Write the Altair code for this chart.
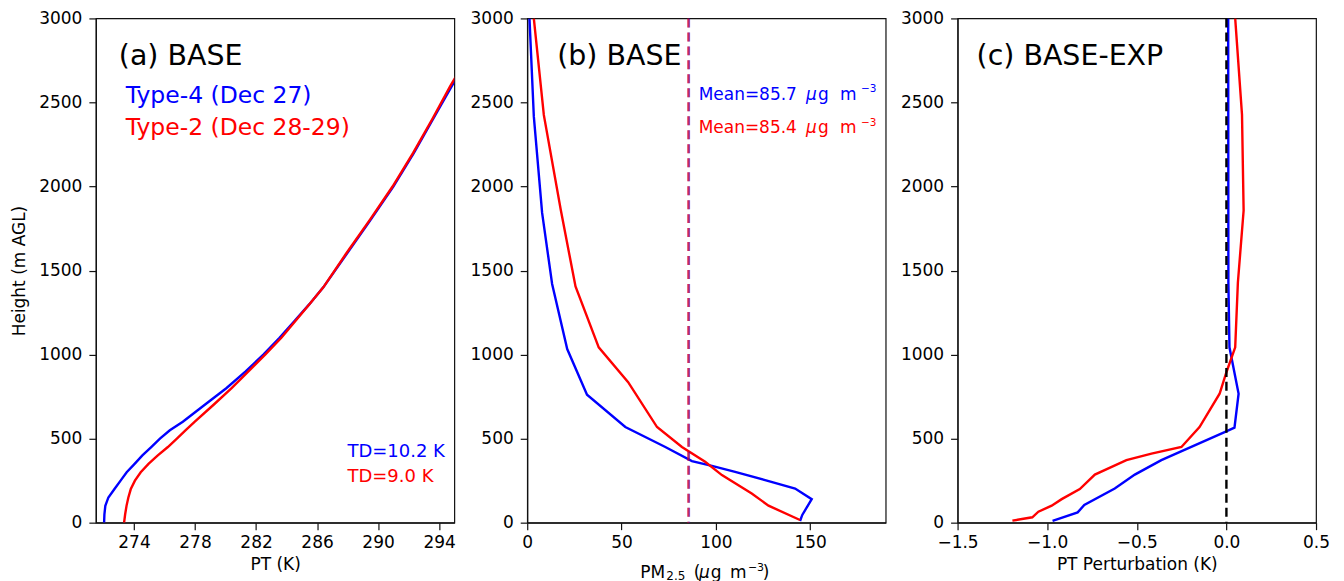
import altair as alt
import pandas as pd

# ---------------- data ----------------
# (a) potential temperature profiles (K) on shared heights (m AGL)
pt_height = [0, 50, 100, 150, 200, 250, 300, 350, 400, 450, 500, 550, 600, 700, 800,
             900, 1000, 1100, 1200, 1300, 1400, 1600, 1800, 2000, 2200, 2400, 2600, 2700]
pt_type4 = [272.04, 272.06, 272.12, 272.32, 272.72, 273.12, 273.52, 274.04, 274.55, 275.13,
            275.7, 276.35, 277.2, 278.62, 280.05, 281.32, 282.48, 283.54, 284.52, 285.5,
            286.41, 287.95, 289.5, 291.0, 292.35, 293.6, 294.85, 295.5]
pt_type2 = [273.35, 273.42, 273.51, 273.63, 273.79, 274.06, 274.44, 274.95, 275.56, 276.22,
            276.81, 277.39, 277.97, 279.2, 280.4, 281.5, 282.6, 283.66, 284.58, 285.5,
            286.41, 287.9, 289.45, 290.95, 292.3, 293.55, 294.75, 295.4]

# (b) PM2.5 profiles (ug m-3)
pm_h_type4 = [10, 46, 140, 203, 253, 302, 338, 366, 450, 569, 761, 1033, 1420, 1843, 2417, 3000]
pm_type4 = [144.6, 145.8, 150.8, 142.0, 126.1, 110.2, 97.9, 87.3, 73.2, 52.0, 31.7, 21.2,
            13.2, 7.9, 3.5, 1.2]
pm_h_type2 = [16, 101, 174, 283, 362, 450, 569, 836, 1043, 1405, 1860, 2426, 3000]
pm_type2 = [144.6, 127.9, 119.0, 103.2, 94.3, 82.0, 68.8, 53.5, 37.9, 25.6, 17.8, 8.8, 3.5]
pm_mean_type4 = 85.7
pm_mean_type2 = 85.4

# (c) PT perturbation BASE-EXP (K)
dpt_h_type4 = [10, 61, 105, 203, 286, 372, 539, 565, 767, 1043, 1429, 3000]
dpt_type4 = [-0.97, -0.83, -0.793, -0.623, -0.511, -0.363, -0.01, 0.045, 0.068, 0.017, 0.011, 0.01]
dpt_h_type2 = [12, 32, 65, 101, 140, 200, 286, 372, 411, 450, 569, 767, 895, 1043, 1429,
               1857, 2426, 3000]
dpt_type2 = [-1.194, -1.083, -1.049, -0.975, -0.919, -0.818, -0.734, -0.558, -0.418, -0.251,
             -0.15, -0.038, 0.0, 0.049, 0.064, 0.096, 0.087, 0.049]

series_names = ["Type-4", "Type-2"]
y_ticks = [0, 500, 1000, 1500, 2000, 2500, 3000]
pt_ticks = [274, 278, 282, 286, 290, 294]
pm_ticks = [0, 50, 100, 150]
dpt_ticks = [-1.5, -1.0, -0.5, 0.0, 0.5]

# ---------------- styling ----------------
FONT = "DejaVu Sans"
BLUE = "#0000ff"
RED = "#ff0000"
W, H = 359, 505

color_scale = alt.Scale(domain=series_names, range=[BLUE, RED])


def two_series(h1, v1, h2, v2):
    return pd.concat([
        pd.DataFrame({"h": h1, "v": v1, "series": series_names[0]}),
        pd.DataFrame({"h": h2, "v": v2, "series": series_names[1]}),
    ], ignore_index=True)


def profile(df, xdomain, xticks, xtitle, ytitle, fmt):
    return alt.Chart(df).mark_line(strokeWidth=2.4, clip=True).encode(
        x=alt.X("v:Q", scale=alt.Scale(domain=xdomain, nice=False, zero=False),
                axis=alt.Axis(values=xticks, title=xtitle, format=fmt)),
        y=alt.Y("h:Q", scale=alt.Scale(domain=[0, 3000], nice=False),
                axis=alt.Axis(values=y_ticks, title=ytitle, format="d")),
        color=alt.Color("series:N", scale=color_scale, legend=None),
        order=alt.Order("h:Q"),
    )


def label(text, x, y, size, color="black", style="normal"):
    return alt.Chart(pd.DataFrame({"t": [text]})).mark_text(
        align="left", baseline="alphabetic", fontSize=size, color=color, font=FONT,
        fontStyle=style
    ).encode(x=alt.value(x), y=alt.value(y), text="t:N")


def rich(pieces, x0, y0, color="black"):
    # pieces: (text, dx, dy, size, style)
    return [label(t, x0 + dx, y0 + dy, s, color, st) for (t, dx, dy, s, st) in pieces]


def unit_pieces(prefix, prefix_size):
    return [
        (prefix, 0, 0, prefix_size, "normal"),
        ("μ", 107.5, 0, 17, "italic"),
        ("g", 119.5, 0, 17, "normal"),
        ("m", 141.5, 0, 17, "normal"),
        ("−3", 162.5, -7.7, 10.5, "normal"),
    ]


# panel (a)
pa = alt.layer(
    profile(two_series(pt_height, pt_type4, pt_height, pt_type2),
            [271.5, 295], pt_ticks, "PT (K)", "Height (m AGL)", "d"),
    label("(a) BASE", 23, 46.7, 28.5),
    label("Type-4 (Dec 27)", 30, 84.3, 23.5, BLUE),
    label("Type-2 (Dec 28-29)", 30, 116.7, 23.5, RED),
    label("TD=10.2 K", 252, 439, 18, BLUE),
    label("TD=9.0 K", 252, 464.3, 18, RED),
).properties(width=W, height=H)

# panel (b)
mean_df = pd.DataFrame({"v": [pm_mean_type4, pm_mean_type2], "series": series_names})
pm_title = [
    ("PM", 0, 0, 17, "normal"),
    ("2.5", 26, 2.3, 12, "normal"),
    ("(", 53.4, 0, 17, "normal"),
    ("μ", 58.7, 0, 17, "italic"),
    ("g", 70.4, 0, 17, "normal"),
    ("m", 89.7, 0, 17, "normal"),
    ("−3", 107.7, -6.7, 11, "normal"),
    (")", 122.7, 0, 17, "normal"),
]
pb = alt.layer(
    profile(two_series(pm_h_type4, pm_type4, pm_h_type2, pm_type2),
            [0, 190], pm_ticks, None, None, "d"),
    alt.Chart(mean_df).mark_rule(strokeDash=[9, 5], strokeWidth=2.4, opacity=0.6).encode(
        x="v:Q", color=alt.Color("series:N", scale=color_scale, legend=None)),
    label("(b) BASE", 30, 46.7, 28.5),
    *rich(unit_pieces("Mean=85.7", 17), 171.7, 81.7, BLUE),
    *rich(unit_pieces("Mean=85.4", 17), 171.7, 115, RED),
    *rich(pm_title, 113.3, H + 55),
).properties(width=W, height=H)

# panel (c)
zero_df = pd.DataFrame({"v": [0.0]})
pc = alt.layer(
    profile(two_series(dpt_h_type4, dpt_type4, dpt_h_type2, dpt_type2),
            [-1.5, 0.5], dpt_ticks, "PT Perturbation (K)", None, ".1f"),
    alt.Chart(zero_df).mark_rule(strokeDash=[9, 5], strokeWidth=2.4, color="black").encode(x="v:Q"),
    label("(c) BASE-EXP", 19, 46.7, 28.5),
).properties(width=W, height=H)

chart = alt.hconcat(pa, pb, pc, spacing=13).properties(
    padding={"left": 2, "top": 0, "right": 5, "bottom": 5}
).configure(font=FONT).configure_view(
    stroke="#111", strokeWidth=1.2
).configure_axis(
    grid=False, domainColor="#111", domainWidth=1.2, tickColor="#111", tickWidth=1.2,
    tickSize=7, labelFontSize=17, labelColor="#000", titleFontSize=17,
    titleFontWeight="normal", titleColor="#000", labelFont=FONT, titleFont=FONT,
    labelFlush=False, labelOverlap=False
).configure_axisX(labelPadding=5, titlePadding=6).configure_axisY(labelPadding=7, titlePadding=10)

chart.save("out.html", embed_options={"renderer": "svg", "actions": False})
